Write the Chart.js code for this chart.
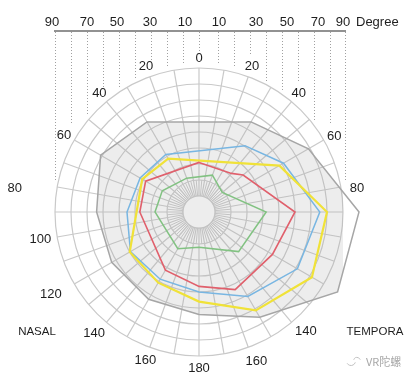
<!DOCTYPE html>
<html>
<head>
<meta charset="utf-8">
<script src="https://cdn.jsdelivr.net/npm/chart.js@4.4.0/dist/chart.umd.min.js"></script>
<style>
html,body{margin:0;padding:0;background:#fff;overflow:hidden}
#wrap{position:relative;width:411px;height:378px}
</style>
</head>
<body>
<div id="wrap"><canvas id="c" width="411" height="378"></canvas></div>
<script>
// ---------- DATA ----------
const angleStep = 5;                       // radar axes every 5 degrees (72 axes)
const pointLabelAngles = [0,20,40,60,80,100,120,140,160,180,200,220,240,260,280,300,320,340];
const pointLabelTexts  = ['0','20','40','60','80','','','140','160','180','160','140','120','100','80','60','40','20'];
const topScaleValues = [-90,-70,-50,-30,-10,10,30,50,70,90];
const topScaleLabels = ['90','70','50','30','10','10','30','50','70','90'];
const topScaleTitle = 'Degree';
const sideLabels = ['NASAL','TEMPORA'];
const watermark = 'VR陀螺';

const grayAngles   = [30,60,90,120,150,180,210,240,270,300,330];
const grayValues   = [65,79,100,100,76,64,63,63,64,71,65];
const blueAngles   = [35,60,90,120,150,180,210,240,270,300,330];
const blueValues   = [50.5,61,75.5,71,61,50,48.5,49.5,45,42.5,41.5];
const yellowAngles = [60,90,120,150,180,210,240,300,330];
const yellowValues = [58,80,81.5,71,56,51,50,41,38.5];
const redAngles    = [0,40,50,90,120,155,180,210,270,300];
const redValues    = [31,31.5,36,60,53,53.5,46.5,42,37,38.5];
const greenAngles  = [20,50,90,135,180,210,270,300,340];
const greenValues  = [24.5,19,42,35,22,26.5,27.5,26.5,22.5];

// ---------- BUILD ----------
const axisCount = 360 / angleStep;
const axisLabels = Array.from({length: axisCount}, (_, i) => String(i * angleStep));
function toSeries(angles, values) {
  const arr = new Array(axisCount).fill(null);
  angles.forEach((a, i) => { arr[Math.round(a / angleStep)] = values[i]; });
  return arr;
}
const GRID = '#c9c9c9';
const FONT = '"Liberation Sans", Arial, Helvetica, sans-serif';

function ds(label, angles, values, color, width, extra) {
  return Object.assign({
    label, data: toSeries(angles, values), borderColor: color, borderWidth: width,
    fill: false, spanGaps: true, pointRadius: 0, tension: 0, clip: false
  }, extra || {});
}
const datasets = [
  ds('green', greenAngles, greenValues, '#82c282', 1.5),
  ds('red', redAngles, redValues, '#e0606c', 1.6),
  ds('yellow', yellowAngles, yellowValues, '#f0e238', 2.2),
  ds('blue', blueAngles, blueValues, '#78b6e2', 1.5),
  ds('gray', grayAngles, grayValues, '#a6a6a6', 1.5, {fill: 'origin', backgroundColor: 'rgba(170,170,170,0.21)'})
];

// layout only: [radius offset beyond outer ring, dx, dy]
const labelPlace = {0:[10,0,0],20:[11,0,0],40:[11,0,0],60:[11,1,2],80:[16.5,0,4],140:[16,4,-3],160:[15,3,0],180:[12,0,0],
  200:[13,0,1],220:[16,-2,-1],240:[27,0,-3],260:[17,0,-1],280:[43,0,8.5],300:[12,0,1],320:[11,0,0],340:[11,0,0]};
const topLabelDx = [-3,0,-2,-1,2,4,9,8,7,0];

const decor = {
  id: 'decor',
  beforeDatasetsDraw(chart) {
    const s = chart.scales.r, c = chart.ctx;
    const cx = s.xCenter, cy = s.yCenter;
    const r10 = s.getDistanceFromCenterForValue(10);
    const r20 = s.getDistanceFromCenterForValue(20);
    c.save();
    c.fillStyle = '#fff';
    c.beginPath(); c.arc(cx, cy, r10, 0, Math.PI * 2); c.fill();
    c.strokeStyle = GRID; c.lineWidth = 1.2;
    c.beginPath(); c.arc(cx, cy, r10, 0, Math.PI * 2); c.stroke();
    c.lineWidth = 1;
    for (let i = 1; i < axisCount; i += 2) {
      const p1 = s.getPointPosition(i, r10), p2 = s.getPointPosition(i, r20);
      c.beginPath(); c.moveTo(p1.x, p1.y); c.lineTo(p2.x, p2.y); c.stroke();
    }
    c.restore();
  },
  afterDraw(chart) {
    const s = chart.scales.r, c = chart.ctx;
    const cx = s.xCenter, cy = s.yCenter, R = s.drawingArea;
    c.save();
    // point labels
    c.fillStyle = '#1e1e1e';
    c.font = '13px ' + FONT;
    c.textAlign = 'center'; c.textBaseline = 'middle';
    pointLabelAngles.forEach((a, i) => {
      const t = pointLabelTexts[i];
      if (!t) return;
      const pl = labelPlace[a] || [12, 0, 0];
      const p = s.getPointPosition(a / angleStep, R + pl[0]);
      c.fillText(t, p.x + pl[1], p.y + pl[2]);
    });
    // top degree scale
    const lineY = 31;
    const xs = [];
    for (let v = -90; v <= 90; v += 10) xs.push(cx + Math.sign(v) * s.getDistanceFromCenterForValue(Math.abs(v)) + (v > 0 ? (v === 90 ? 2 : 3) : 0));
    const ends = [180,123,115,87,88,78,60,67,63,53,63,67,55,82,90,83,120,125,180];
    c.strokeStyle = '#a0a0a0'; c.lineWidth = 1; c.setLineDash([1, 2]);
    xs.forEach((x, i) => { c.beginPath(); c.moveTo(Math.round(x) + 0.5, lineY + 1); c.lineTo(Math.round(x) + 0.5, ends[i]); c.stroke(); });
    c.setLineDash([]);
    c.strokeStyle = '#6e6e6e'; c.lineWidth = 1.3;
    c.beginPath(); c.moveTo(xs[0] - 1, lineY); c.lineTo(xs[xs.length - 1] + 1, lineY); c.stroke();
    c.fillStyle = '#1e1e1e';
    topScaleValues.forEach((v, i) => {
      const x = cx + Math.sign(v) * s.getDistanceFromCenterForValue(Math.abs(v)) + topLabelDx[i];
      c.fillText(topScaleLabels[i], x, 22);
    });
    c.textAlign = 'left';
    c.fillText(topScaleTitle, 356, 22);
    // side labels
    c.font = '11.5px ' + FONT;
    c.textAlign = 'center';
    c.fillText(sideLabels[0], 37, 332);
    c.fillText(sideLabels[1], 375, 332);
    // watermark
    c.fillStyle = '#a8a8a8';
    c.font = '11px "Noto Sans CJK SC", sans-serif';
    c.textAlign = 'left';
    c.fillText(watermark, 366, 362);
    c.strokeStyle = '#c0c0c0'; c.lineWidth = 1;
    c.beginPath(); c.arc(351, 361, 4.5, 0.3, 2.6); c.stroke();
    c.beginPath(); c.arc(357, 361, 3.5, 3.5, 5.9); c.stroke();
    c.restore();
  }
};

new Chart(document.getElementById('c'), {
  type: 'radar',
  data: { labels: axisLabels, datasets },
  options: {
    responsive: false, animation: false, devicePixelRatio: 1,
    layout: { padding: { left: 55, right: 68, top: 68, bottom: 22 } },
    plugins: { legend: { display: false }, tooltip: { enabled: false } },
    elements: { point: { radius: 0 }, line: { tension: 0 } },
    scales: {
      r: {
        min: 0, max: 90,
        ticks: { display: false, stepSize: 10 },
        grid: { circular: true, color: GRID, lineWidth: 1.2 },
        angleLines: { color: (ctx) => (ctx.index % 2 === 0 ? GRID : 'rgba(0,0,0,0)'), lineWidth: 1.2 },
        pointLabels: { display: false }
      }
    }
  },
  plugins: [decor]
});
</script>
</body>
</html>
